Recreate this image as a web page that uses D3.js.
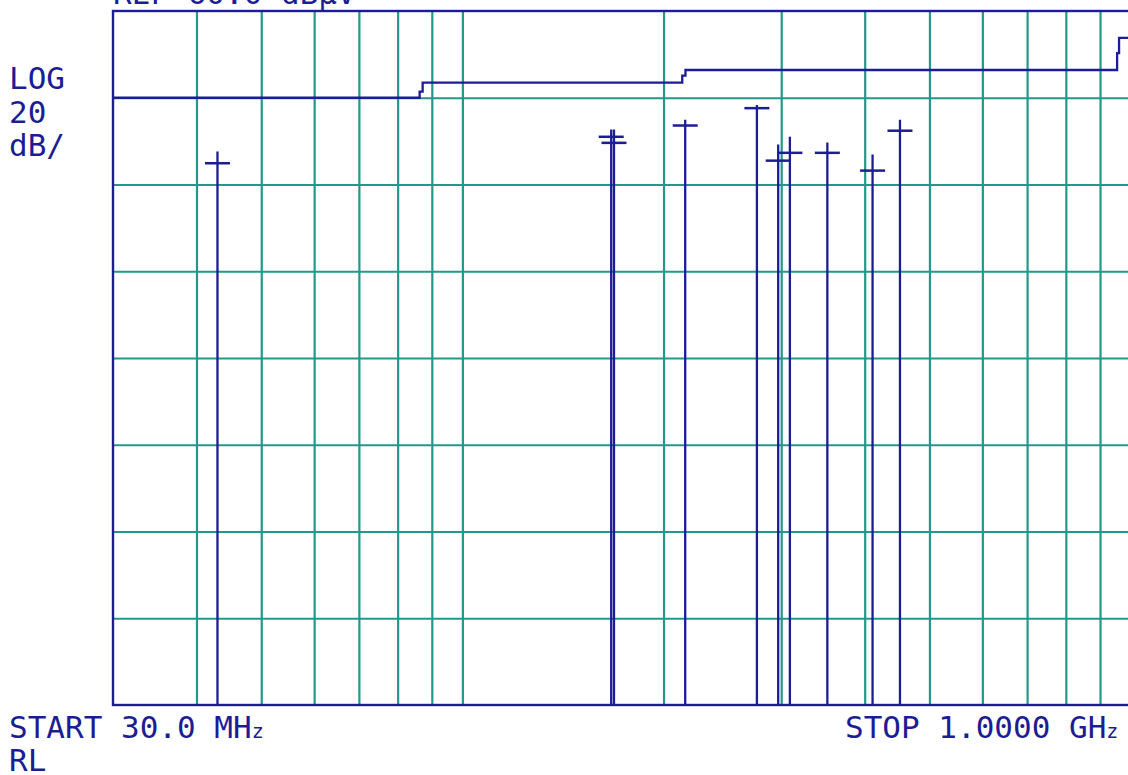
<!DOCTYPE html>
<html>
<head>
<meta charset="utf-8">
<script src="https://cdn.jsdelivr.net/npm/d3@7"></script>
<style>
  html, body { margin: 0; padding: 0; background: #ffffff; }
  svg { display: block; }
  text { font-family: "DejaVu Sans Mono", "Liberation Mono", monospace; fill: #1c1c94; }
</style>
</head>
<body>
<svg id="chart" width="1128" height="775"></svg>
<script>
// ---- data ----
const refLevel = 60;            // dBμV (top of screen)
const dbPerDiv = 20;
const divisions = 8;
const startMHz = 30;
const stopMHz = 1000;

const gridFreqsMHz = [40, 50, 60, 70, 80, 90, 100, 200, 300, 400, 500, 600, 700, 800, 900];
const gridLevels = [40, 20, 0, -20, -40, -60, -80];

// limit line (dBμV) as traced by the analyzer
const limitFreqMHz = [30, 86.3, 86.3, 87.2, 87.2, 213.3, 213.3, 215.7, 215.7, 954.6, 954.6, 961, 961, 1000];
const limitLevels  = [40, 40, 41.4, 41.4, 43.5, 43.5, 45.1, 45.1, 46.4, 46.4, 50.3, 50.3, 53.8, 53.8];

// emission peaks and marker (+) readings
const markerFreqMHz = [43.0, 167.0, 168.6, 215.5, 275.9, 296.9, 309.1, 351.7, 411.0, 451.7];
const peakLevels    = [27.6, 32.7, 32.7, 34.9, 38.3, 29.2, 31.0, 29.7, 26.9, 34.9];
const markerLevels  = [24.9, 31.0, 29.6, 33.6, 37.6, 25.5, 27.3, 27.3, 23.2, 32.4];

const topTexts = ["REF 60.0 dBμV"];
const leftTexts = ["LOG", "20", "dB/"];

// ---- layout ----
const navy = "#1c1c94";
const teal = "#22988b";
const plot = { left: 113, top: 11, right: 1130.6, bottom: 705 };

const svg = d3.select("#chart");
svg.append("rect").attr("width", 1128).attr("height", 775).attr("fill", "#fff");

const x = d3.scaleLog().domain([startMHz, stopMHz]).range([plot.left, plot.right]);
const y = d3.scaleLinear().domain([refLevel - dbPerDiv * divisions, refLevel]).range([plot.bottom, plot.top]);

// grid via axes
const gx = svg.append("g").attr("transform", `translate(0,${plot.bottom})`)
  .call(d3.axisBottom(x).tickValues(gridFreqsMHz).tickSize(-(plot.bottom - plot.top)).tickFormat(""));
gx.select(".domain").remove();
gx.selectAll(".tick line").attr("stroke", teal).attr("stroke-width", 2.2);

const gy = svg.append("g").attr("transform", `translate(${plot.left},0)`)
  .call(d3.axisLeft(y).tickValues(gridLevels).tickSize(-(plot.right - plot.left)).tickFormat(""));
gy.select(".domain").remove();
gy.selectAll(".tick line").attr("stroke", teal).attr("stroke-width", 2.2);

// border
svg.append("rect")
  .attr("x", plot.left).attr("y", plot.top)
  .attr("width", plot.right - plot.left).attr("height", plot.bottom - plot.top)
  .attr("fill", "none").attr("stroke", navy).attr("stroke-width", 2.4);

// limit line
const limitData = limitFreqMHz.map((f, i) => [f, limitLevels[i]]);
svg.append("path")
  .datum(limitData)
  .attr("fill", "none").attr("stroke", navy).attr("stroke-width", 2.3)
  .attr("d", d3.line().x(d => x(d[0])).y(d => y(d[1])));

// emission lines
const bottomLevel = refLevel - dbPerDiv * divisions;
markerFreqMHz.forEach((f, i) => {
  svg.append("line")
    .attr("x1", x(f)).attr("x2", x(f))
    .attr("y1", y(bottomLevel)).attr("y2", y(peakLevels[i]))
    .attr("stroke", navy).attr("stroke-width", 2.3);
  svg.append("line")
    .attr("x1", x(f) - 12.5).attr("x2", x(f) + 12.5)
    .attr("y1", y(markerLevels[i])).attr("y2", y(markerLevels[i]))
    .attr("stroke", navy).attr("stroke-width", 2.5);
});

// texts
const fs = 31;
svg.append("text").attr("x", 113).attr("y", 4).attr("font-size", fs).text(topTexts[0]);

leftTexts.forEach((t, i) => {
  svg.append("text").attr("x", 9).attr("y", 89 + i * 33.5).attr("font-size", fs).text(t);
});

const startT = svg.append("text").attr("x", 9).attr("y", 738).attr("font-size", fs);
startT.append("tspan").text("START 30.0 MH");
startT.append("tspan").attr("font-size", 20).text("z");

const stopT = svg.append("text").attr("x", 845).attr("y", 738).attr("font-size", fs);
stopT.append("tspan").text("STOP 1.0000 GH");
stopT.append("tspan").attr("font-size", 20).text("z");

svg.append("text").attr("x", 9).attr("y", 771).attr("font-size", fs).text("RL");
</script>
</body>
</html>
